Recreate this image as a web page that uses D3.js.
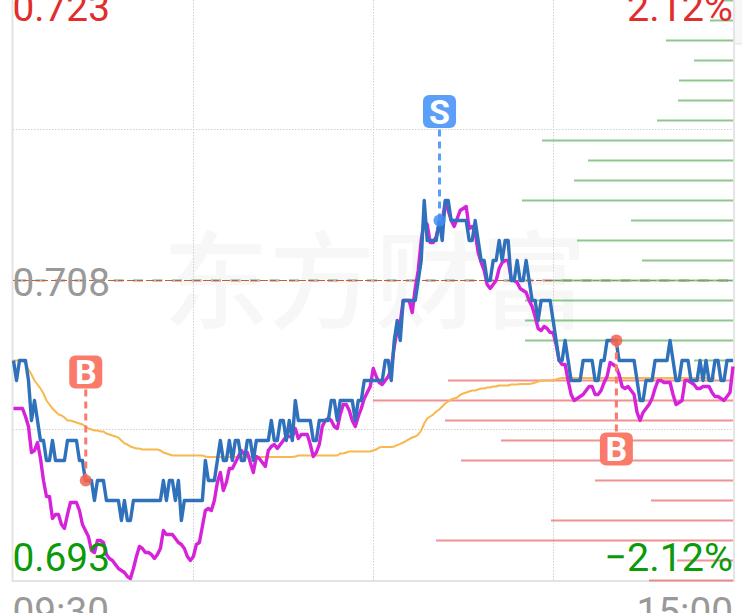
<!DOCTYPE html>
<html><head><meta charset="utf-8">
<script src="https://cdnjs.cloudflare.com/ajax/libs/d3/7.8.5/d3.min.js"></script>
<style>html,body{margin:0;padding:0;background:#fff;overflow:hidden}svg{display:block}text{font-family:Roboto,sans-serif}</style>
</head><body><svg id="c" width="742" height="613"></svg>
<script>
// prices are in thousandths of a yuan; index = trading minute
const price = [704,703,704,704,704,703,701,702,701,700,700,699,699,700,699,699,699,699,700,700,700,700,699,699,698,698,698,697,698,698,698,697,697,697,697,697,696,697,696,696,697,697,697,697,697,697,697,697,697,697,698,697,698,698,697,698,696,697,697,697,697,697,697,697,699,698,698,698,699,700,699,699,700,699,700,700,699,699,700,700,699,700,700,700,700,700,701,700,700,701,701,700,701,700,702,701,701,701,701,701,700,700,701,701,701,701,702,702,701,702,702,702,702,702,701,702,702,703,703,703,703,703,703,703,704,704,703,705,706,705,707,707,707,707,707,708,709,712,710,710,710,710,711,710,712,712,711,711,711,711,711,711,710,710,711,710,709,709,708,708,709,709,710,709,710,710,708,708,709,708,708,709,708,707,707,706,707,707,707,707,706,705,704,704,705,704,703,703,703,703,704,704,704,704,703,703,704,704,705,705,705,705,704,704,704,704,704,704,703,702,702,703,703,703,704,704,704,704,704,705,704,703,703,704,704,704,703,703,703,704,703,704,703,703,704,704,703,703,704,704,704];
const avgA = [701.6,701.6,701.6,701.6,701.2,700.7,699.4,699.5,699.9,699.1,698,697.2,697.2,696.1,696.3,696.3,695.8,695.6,696.3,696.9,696.9,696.9,696.5,695.8,695.5,695.2,694.5,694.4,695,695,694.9,694.3,694.1,694,693.8,693.6,693.5,693.4,693.2,693.1,693.6,694.2,694.7,694.6,694.4,694.4,694.3,694.1,694.3,694.6,695.5,695.3,695.3,695.3,695.1,694.9,694.8,694.6,694.2,694,694.2,694.8,694.9,695.7,696.5,696.6,696.5,697,697.9,698.4,697.5,697.9,698.6,698.6,698.9,699.2,699.5,699.3,699.4,698.9,698.4,699.2,699.1,698.9,698.7,699.5,699.7,699.8,699.6,699.8,700,700.2,700.2,700.2,700.6,700.1,700.3,700.3,700.3,699.8,699.2,699.4,699.8,700.7,701,701.1,701,700.7,700.6,701.3,701.8,701.8,701.5,701,700.7,701.2,701.6,702.1,702.4,702.7,703.6,703.2,702.9,702.8,703,703.2,703.6,704.7,705.5,705.9,707,707,707,706.4,707.6,708.5,710,711,710.8,709.9,709.9,710.2,710.8,711,711.9,711.5,711,710.7,711.1,711.5,711.6,711.7,710.6,710.7,710.4,709.4,708.9,708.5,707.8,707.6,707.8,708,708.6,708.9,709,709,708.1,708,707.9,707.6,707.5,707.4,707,706.7,706.2,705.6,705.5,705.7,705.6,705.4,705.4,704.8,704,703.8,703.8,703,702.3,702,702.1,702.2,702.3,702.5,702.7,702.7,702.3,702.3,702.5,702.9,703.2,703.9,703.8,703.7,703.3,702.7,702.6,702.7,702.5,702.3,701.4,701,701.4,701.6,701.8,702.1,702.6,703,703,702.9,702.9,702.9,702.3,701.8,701.9,702,703,703,702.9,702.8,702.6,702.6,702.7,702.7,702.7,702.4,702.2,702.2,702.1,702,702.2,702.4,703.7];
const avgB = [704,704,704,704,703.85,703.55,703.3,703,702.8,702.6,702.35,702,701.8,701.6,701.45,701.3,701.25,701.15,701,701,700.95,700.9,700.85,700.8,700.7,700.6,700.55,700.5,700.5,700.45,700.45,700.35,700.3,700.25,700.2,700.15,700,699.85,699.8,699.7,699.65,699.6,699.6,699.55,699.55,699.55,699.55,699.55,699.55,699.5,699.4,699.35,699.3,699.25,699.25,699.25,699.25,699.25,699.25,699.25,699.25,699.25,699.25,699.25,699.2,699.17,699.17,699.17,699.17,699.17,699.17,699.17,699.17,699.17,699.17,699.17,699.17,699.17,699.17,699.17,699.17,699.17,699.17,699.17,699.17,699.17,699.17,699.17,699.17,699.17,699.17,699.17,699.17,699.17,699.2,699.25,699.25,699.25,699.25,699.25,699.25,699.25,699.25,699.25,699.25,699.25,699.25,699.25,699.25,699.35,699.35,699.4,699.45,699.45,699.45,699.45,699.45,699.45,699.45,699.45,699.5,699.55,699.65,699.67,699.67,699.67,699.67,699.7,699.77,699.83,699.9,699.98,700.07,700.15,700.2,700.3,700.5,700.85,701.1,701.2,701.3,701.45,701.55,701.7,701.85,701.95,702.05,702.1,702.15,702.28,702.35,702.4,702.45,702.5,702.5,702.55,702.6,702.6,702.65,702.65,702.7,702.7,702.75,702.75,702.75,702.75,702.8,702.8,702.8,702.83,702.83,702.83,702.83,702.85,702.9,702.95,703,703,703,703,703,703.05,703.1,703.13,703.13,703.13,703.13,703.13,703.13,703.13,703.13,703.13,703.13,703.13,703.13,703.13,703.13,703.13,703.13,703.13,703.13,703.13,703.13,703.13,703.13,703.13,703.13,703.13,703.13,703.13,703.13,703.13,703.13,703.13,703.13,703.13,703.13,703.13,703.13,703.13,703.13,703.13,703.13,703.13,703.13,703.13,703.13,703.13,703.13,703.13,703.13,703.13,703.13,703.13,703.13];
// order-book depth by price level
const askLevels = [722,721,720,719,718,717,716,715,714,713,712,711,710,709,708,707,706,705,704];
const askVolumes = [10,23,67,39,54,55,76,191,145,159,211,102,156,91,180,208,208,208,39];
const bidLevels = [703,702,701,700,699,698,697,696,695,694,693];
const bidVolumes = [285,360,288,232,272,138,82,182,297,56,84];
// trade signals
const signalLabels = ["B","S","B"];
const signalIndex = [24,142,201];
const signalPrice = [698,711,705];
const signalLabelY = [372,111.5,449];
// labels
const priceTicks = [723,708,693];
const percentTicks = ["2.12%","\u22122.12%"];
const timeTicks = ["09:30","15:00"];
const gridIndex = [60,120,180];
const gridLevels = [715.5,700.5];
const watermark = "东方财富";

const svg = d3.select("#c");
const x = d3.scaleLinear().domain([0,240]).range([13.5,733]);
const y = d3.scaleLinear().domain([693,723]).range([580.5,-19.5]);
const vol = d3.scaleLinear().domain([0,720]).range([733,13]);

// top-right panel
svg.append("rect").attr("x",735).attr("y",0).attr("width",7).attr("height",43).attr("fill","#f6f7f9");
svg.append("rect").attr("x",735).attr("y",43).attr("width",7).attr("height",1.5).attr("fill","#e8e8ea");

// watermark
svg.append("text").text(watermark).attr("x",375).attr("y",320).attr("text-anchor","middle")
  .style("font-family","'Noto Sans CJK SC'").style("font-weight",500).style("font-size","106px").attr("fill","#f7f7f7");

// grid
const grid = svg.append("g").attr("stroke","#cfcfcf").attr("stroke-width",1).attr("stroke-dasharray","1.5,1.5");
grid.selectAll(".v").data(gridIndex).join("line").attr("x1",d=>Math.floor(x(d))+.5).attr("x2",d=>Math.floor(x(d))+.5).attr("y1",0).attr("y2",580);
grid.selectAll(".h").data(gridLevels).join("line").attr("x1",13).attr("x2",733).attr("y1",d=>Math.floor(y(d))-.5).attr("y2",d=>Math.floor(y(d))-.5);

// frame
svg.append("line").attr("x1",12.5).attr("x2",12.5).attr("y1",0).attr("y2",582).attr("stroke","#e3e3e3").attr("stroke-width",2);
svg.append("line").attr("x1",12).attr("x2",734).attr("y1",581).attr("y2",581).attr("stroke","#e3e3e3").attr("stroke-width",2);
svg.append("line").attr("x1",734).attr("x2",734).attr("y1",0).attr("y2",582).attr("stroke","#dcdcdc").attr("stroke-width",1.5);

// centre (previous close) line
svg.append("line").attr("x1",13).attr("x2",733).attr("y1",y(708)).attr("y2",y(708)).attr("stroke","#b5b5b5").attr("stroke-width",2.5).attr("stroke-dasharray","10,9.5").attr("stroke-dashoffset",-3);
svg.append("line").attr("x1",13).attr("x2",733).attr("y1",y(708)).attr("y2",y(708)).attr("stroke","#c4602a").attr("stroke-width",1).attr("stroke-dasharray","8,2,6,3");

// depth bars
const bars = svg.append("g");
bars.selectAll(".a").data(askLevels).join("line").attr("x1",(d,i)=>vol(askVolumes[i])).attr("x2",733)
  .attr("y1",d=>y(d)).attr("y2",d=>y(d)).attr("stroke","#69b569").attr("stroke-opacity",.75).attr("stroke-width",2);
bars.selectAll(".b").data(bidLevels).join("line").attr("x1",(d,i)=>vol(bidVolumes[i])).attr("x2",733)
  .attr("y1",d=>y(d)).attr("y2",d=>y(d)).attr("stroke","#ea6f6f").attr("stroke-opacity",.75).attr("stroke-width",2);

// lines
const line = d3.line().x((d,i)=>x(i)).y(d=>y(d));
svg.append("path").datum(avgB).attr("d",line).attr("fill","none").attr("stroke","#f7b84d").attr("stroke-width",2);
svg.append("path").datum(avgA).attr("d",line).attr("fill","none").attr("stroke","#d623d9").attr("stroke-width",3.4).attr("stroke-linejoin","round");
svg.append("path").datum(price).attr("d",line).attr("fill","none").attr("stroke","#2f72bb").attr("stroke-width",3.4).attr("stroke-linejoin","round");

// signals
signalLabels.forEach((s,i)=>{
  const c = s==="S" ? "#5b9ff8" : "#fb7b6b";
  const px = x(signalIndex[i])+.3, py = y(signalPrice[i]), ly = signalLabelY[i];
  svg.append("line").attr("x1",px).attr("x2",px).attr("y1",py).attr("y2",ly).attr("stroke",c).attr("stroke-width",3).attr("stroke-dasharray","7,5");
  svg.append("circle").attr("cx",px).attr("cy",py).attr("r",6).attr("fill",c==="#5b9ff8"?"#3f8ef8":"#f0604f").attr("fill-opacity",.85);
  svg.append("rect").attr("x",px-16.5).attr("y",ly-16.5).attr("width",33).attr("height",33).attr("rx",6).attr("fill",c);
  svg.append("text").text(s).attr("x",px).attr("y",ly+12).attr("text-anchor","middle").attr("fill","#fff")
    .style("font-size","34px").style("font-weight",700);
});

// labels
const lab = (t,xp,yp,c,a,fs)=>svg.append("text").text(t).attr("x",xp).attr("y",yp).attr("fill",c).attr("text-anchor",a||"start").style("font-size",(fs||38.8)+"px");
const fmt = v=>d3.format(".3f")(v/1000);
lab(fmt(priceTicks[0]),12.5,21,"#e22d2d");
lab(fmt(priceTicks[1]),12.5,296,"#999999");
lab(fmt(priceTicks[2]),12.5,571,"#0a9a0a");
lab(percentTicks[0],733,21,"#e22d2d","end",39.5);
lab(percentTicks[1],733,571,"#0a9a0a","end",39.5);
lab(timeTicks[0],12.5,625,"#999999");
lab(timeTicks[1],733,625,"#999999","end");
</script></body></html>
